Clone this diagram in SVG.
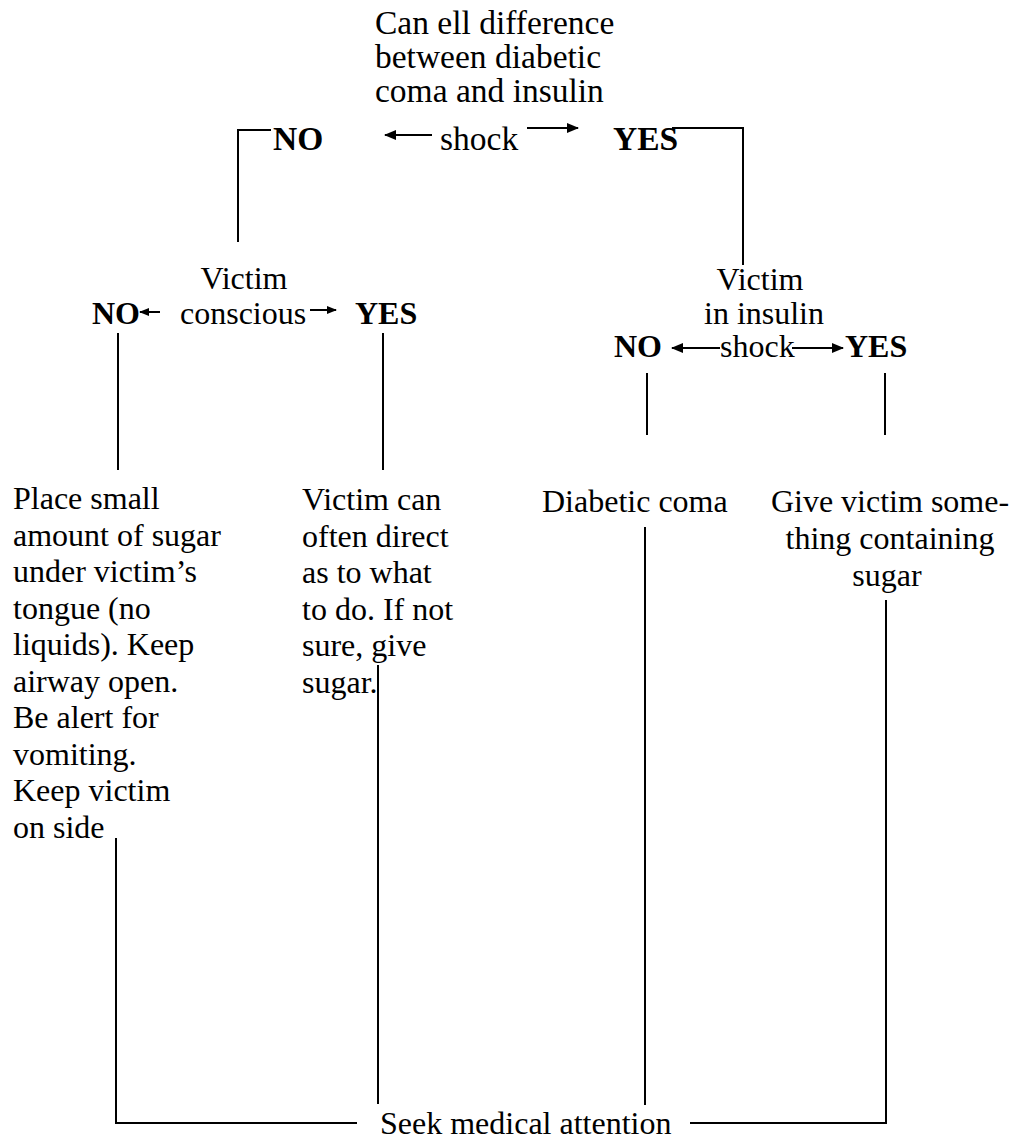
<svg xmlns="http://www.w3.org/2000/svg" width="1033" height="1144" viewBox="0 0 1033 1144">
  <defs>
    <style>
      text { font-family: "Liberation Serif", "Times New Roman", serif; font-size: 32px; fill: #000; }
      .big { font-size: 33.5px; }
      .b { font-weight: bold; }
      .mid { text-anchor: middle; }
      .ln { fill: none; stroke: #000; stroke-width: 2; }
    </style>
    <marker id="head" viewBox="0 0 12 10" refX="11" refY="5" markerWidth="12" markerHeight="10" markerUnits="userSpaceOnUse" orient="auto">
      <path d="M0,0 L12,5 L0,10 Z" fill="#000"/>
    </marker>
    <marker id="headSm" viewBox="0 0 10 8" refX="9" refY="4" markerWidth="10" markerHeight="8" markerUnits="userSpaceOnUse" orient="auto">
      <path d="M0,0 L10,4 L0,8 Z" fill="#000"/>
    </marker>
  </defs>

  <rect width="1033" height="1144" fill="#fff"/>

  <!-- decision: can tell difference -->
  <g id="q-difference">
    <text class="big" x="375" y="34">Can ell difference</text>
    <text class="big" x="375" y="68">between diabetic</text>
    <text class="big" x="375" y="102">coma and insulin</text>
    <text class="big" x="440" y="150">shock</text>
  </g>
  <g id="q1-no"><text class="big b" x="273" y="150">NO</text></g>
  <g id="q1-yes"><text class="big b" x="613" y="150">YES</text></g>

  <!-- decision: victim conscious -->
  <g id="q-conscious">
    <text class="mid" x="244" y="289">Victim</text>
    <text x="180" y="324">conscious</text>
  </g>
  <g id="q2-no"><text class="b" x="92" y="324">NO</text></g>
  <g id="q2-yes"><text class="b" x="355" y="324">YES</text></g>

  <!-- decision: victim in insulin shock -->
  <g id="q-insulin">
    <text class="mid" x="760" y="290">Victim</text>
    <text class="mid" x="764" y="324">in insulin</text>
    <text x="720" y="357">shock</text>
  </g>
  <g id="q3-no"><text class="b" x="614" y="357">NO</text></g>
  <g id="q3-yes"><text class="b" x="845" y="357">YES</text></g>

  <!-- actions -->
  <g id="a-unconscious">
    <text x="13" y="509">Place small</text>
    <text x="13" y="545.5">amount of sugar</text>
    <text x="13" y="582">under victim’s</text>
    <text x="13" y="618.5">tongue (no</text>
    <text x="13" y="655">liquids). Keep</text>
    <text x="13" y="691.5">airway open.</text>
    <text x="13" y="728">Be alert for</text>
    <text x="13" y="764.5">vomiting.</text>
    <text x="13" y="801">Keep victim</text>
    <text x="13" y="837.5">on side</text>
  </g>
  <g id="a-conscious">
    <text x="302" y="510">Victim can</text>
    <text x="302" y="546.5">often direct</text>
    <text x="302" y="583">as to what</text>
    <text x="302" y="619.5">to do. If not</text>
    <text x="302" y="656">sure, give</text>
    <text x="302" y="692.5">sugar.</text>
  </g>
  <g id="a-coma">
    <text x="542" y="512">Diabetic coma</text>
  </g>
  <g id="a-shock">
    <text class="mid" x="890" y="512">Give victim some-</text>
    <text class="mid" x="890" y="549">thing containing</text>
    <text class="mid" x="887" y="586">sugar</text>
  </g>
  <g id="a-medical">
    <text x="380" y="1134">Seek medical attention</text>
  </g>

  <!-- connectors -->
  <g id="connectors">
    <line class="ln" x1="432" y1="135" x2="385" y2="135" marker-end="url(#head)"/>
    <line class="ln" x1="527" y1="128" x2="578" y2="128" marker-end="url(#head)"/>
    <path class="ln" d="M271,130 H238 V242"/>
    <path class="ln" d="M672,128 H743 V265"/>

    <line class="ln" x1="160" y1="312" x2="140" y2="312" marker-end="url(#headSm)"/>
    <line class="ln" x1="310" y1="310" x2="336" y2="310" marker-end="url(#headSm)"/>
    <line class="ln" x1="118" y1="333" x2="118" y2="470"/>
    <line class="ln" x1="383" y1="333" x2="383" y2="470"/>

    <line class="ln" x1="720" y1="348" x2="672" y2="348" marker-end="url(#head)"/>
    <line class="ln" x1="792" y1="348" x2="843" y2="348" marker-end="url(#head)"/>
    <line class="ln" x1="647" y1="373" x2="647" y2="435"/>
    <line class="ln" x1="885" y1="373" x2="885" y2="435"/>

    <path class="ln" d="M116,838 V1123 H357"/>
    <line class="ln" x1="378" y1="665" x2="378" y2="1104"/>
    <line class="ln" x1="645" y1="527" x2="645" y2="1105"/>
    <path class="ln" d="M690,1123 H886 V600"/>
  </g>
</svg>
